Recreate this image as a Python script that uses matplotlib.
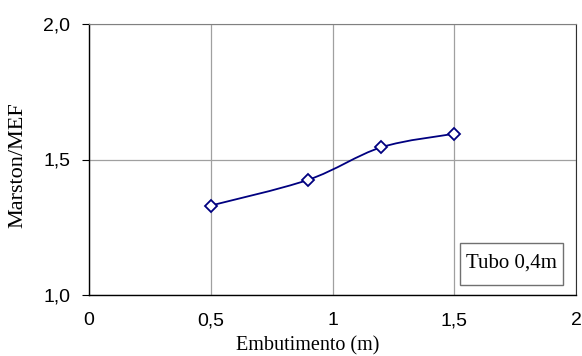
import numpy as np
import matplotlib.pyplot as plt
from matplotlib.path import Path
from matplotlib.patches import PathPatch, Rectangle

embutimento = [0.5, 0.9, 1.2, 1.5]
marston_mef = [1.33, 1.425, 1.545, 1.595]
x_ticks = [0, 0.5, 1, 1.5, 2]
x_labels = ["0", "0,5", "1", "1,5", "2"]
y_ticks = [1.0, 1.5, 2.0]
y_labels = ["1,0", "1,5", "2,0"]

serif = "Liberation Serif"
sans = "Liberation Sans"
navy = "#000080"

W, H = 582, 356
fig = plt.figure(figsize=(W / 100, H / 100), dpi=100)
ax = fig.add_axes([89 / W, (H - 295) / H, 487 / W, 271 / H])

# smoothed line like Excel (Catmull-Rom as cubic bezier)
x = np.array(embutimento)
y = np.array(marston_mef)
verts = [(x[0], y[0])]
codes = [Path.MOVETO]
n = len(x)
for i in range(n - 1):
    p0 = np.array([x[max(i - 1, 0)], y[max(i - 1, 0)]])
    p1 = np.array([x[i], y[i]])
    p2 = np.array([x[i + 1], y[i + 1]])
    p3 = np.array([x[min(i + 2, n - 1)], y[min(i + 2, n - 1)]])
    c1 = p1 + (p2 - p0) / 6
    c2 = p2 - (p3 - p1) / 6
    verts += [tuple(c1), tuple(c2), tuple(p2)]
    codes += [Path.CURVE4] * 3
ax.add_patch(PathPatch(Path(verts, codes), fill=False, edgecolor=navy, lw=1.3, zorder=3))
ax.plot(embutimento, marston_mef, linestyle="none", marker="D", markersize=6.5,
        markerfacecolor="white", markeredgecolor=navy, markeredgewidth=1.3, zorder=4)

ax.set_xlim(0, 2)
ax.set_ylim(1.0, 2.0)
ax.set_xticks(x_ticks)
ax.set_xticklabels(x_labels, fontfamily=sans, fontsize=14)
ax.set_yticks(y_ticks)
ax.set_yticklabels(y_labels, fontfamily=sans, fontsize=14)
ax.tick_params(axis="x", length=0, pad=12.5)
ax.tick_params(axis="y", length=5, pad=8.5, color="black")
ax.grid(True, color="#a0a0a0", lw=0.9)
ax.set_axisbelow(True)

for side in ["left", "bottom"]:
    ax.spines[side].set_color("black")
    ax.spines[side].set_linewidth(1.0)
ax.spines["top"].set_color("#808080")
ax.spines["right"].set_color("#303030")

fig.text(308 / W, 1 / H, "Embutimento (m)", ha="center", va="bottom",
         fontfamily=serif, fontsize=14.5)
fig.text(17.5 / W, (H - 165) / H, "Marston/MEF", ha="center", va="center",
         rotation=90, fontfamily=serif, fontsize=16)

ax.add_patch(Rectangle((0.762, 0.037), 0.211, 0.155, transform=ax.transAxes,
                       facecolor="white", edgecolor="#707070", lw=1.0, zorder=5))
ax.text(0.867, 0.118, "Tubo 0,4m", transform=ax.transAxes, ha="center", va="center",
        fontfamily=serif, fontsize=15, zorder=6)

fig.savefig("out.png", dpi=100)
